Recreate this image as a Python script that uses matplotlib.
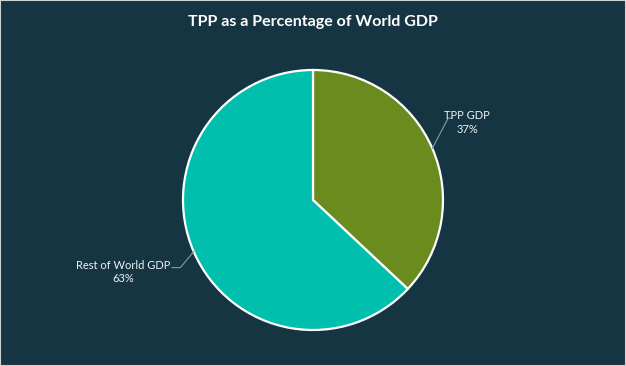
import numpy as np
import matplotlib.pyplot as plt

labels = ['TPP GDP', 'Rest of World GDP']
shares = [37, 63]
colors = ['#6a8c1f', '#00c0ad']
bg = '#163543'

fig = plt.figure(figsize=(6.26, 3.66), dpi=100, facecolor=bg)
ax = fig.add_axes([0, 0, 1, 1])
ax.set_facecolor(bg)

wedges, _ = ax.pie(shares, colors=colors, startangle=90, counterclock=False,
                   radius=1.0, wedgeprops=dict(edgecolor='white', linewidth=1.6))

ax.set_aspect('auto')
ax.set_xlim(-313 / 130, 313 / 130)
ax.set_ylim(-166 / 130, 200 / 130)
ax.axis('off')

# leader lines and labels
line_col = '#8a9aa2'
txt_col = '#eef3f5'
for w, lab, s in zip(wedges, labels, shares):
    mid = np.deg2rad((w.theta1 + w.theta2) / 2)
    px, py = np.cos(mid), np.sin(mid)
    if px > 0:
        elbow = (1.04, 0.63)
        end = (1.07, 0.63)
        tx, ty = 1.185, 0.595
    else:
        elbow = (-1.02, -0.52)
        end = (-1.085, -0.52)
        tx, ty = -1.46, -0.555
    ax.plot([px, elbow[0], end[0]], [py, elbow[1], end[1]], color=line_col, lw=0.8)
    ax.text(tx, ty, f'{lab}\n{s}%', ha='center', va='center', color=txt_col,
            fontsize=8, family='Lato', linespacing=1.3)

fig.text(0.5, 0.94, 'TPP as a Percentage of World GDP', ha='center', va='center',
         color='white', fontsize=11.5, fontweight='bold', family='Lato')

fig.patches.append(plt.Rectangle((0, 0), 1, 1, transform=fig.transFigure, fill=False,
                                 edgecolor='#d0d0d0', lw=1.5))

fig.savefig('out.png', dpi=100, facecolor=bg)
